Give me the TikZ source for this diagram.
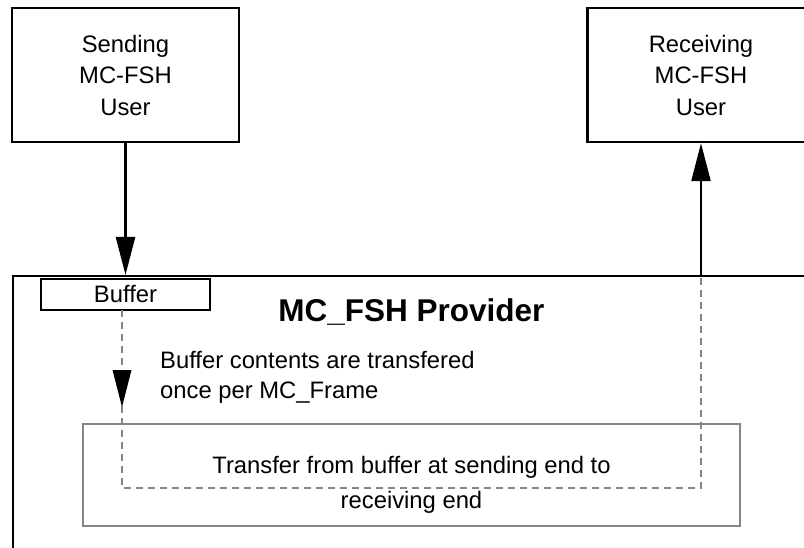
\documentclass[tikz,border=0pt]{standalone}
\usepackage{fontspec}
\setmainfont{Liberation Sans}
\usetikzlibrary{arrows.meta}
\definecolor{lgray}{HTML}{858585}
\tikzset{
  blk/.style={draw=black, line width=2.4pt, inner sep=0pt, rectangle},
  usrbox/.style={blk, minimum width=227pt, minimum height=134pt, align=center,
    font=\fontsize{23.8}{31.5}\selectfont},
  conn/.style={line width=2.4pt, -{Triangle[length=38pt,width=19pt]}},
  dline/.style={draw=lgray, line width=2.3pt, dash pattern=on 7pt off 5pt},
  txt/.style={font=\fontsize{23.8}{30}\selectfont, inner sep=0pt}
}
\begin{document}
\begin{tikzpicture}[x=1pt,y=-1pt]
\useasboundingbox (0,0) rectangle (804,548);
\clip (0,0) rectangle (804,548);
% provider box
\node[blk, minimum width=818pt, minimum height=290pt, anchor=north west] (prov) at (12,275) {};
% users
\node[usrbox] (send) at (125.5,75) {Sending\\MC-FSH\\User};
\node[usrbox] (recv) at (701,75) {Receiving\\MC-FSH\\User};
% buffer
\node[blk, minimum width=169pt, minimum height=31pt, fill=white, txt] (buf) at (125.5,294.5) {Buffer};
% title and notes
\node[font=\bfseries\fontsize{31.5}{31.5}\selectfont, inner sep=0pt] (title) at (411.5,312) {MC\_FSH Provider};
\node[txt, anchor=west, align=left] (note) at (160,377) {Buffer contents are transfered\\once per MC\_Frame};
% transfer box
\node[draw=lgray, line width=2.3pt, minimum width=657pt, minimum height=102pt, inner sep=0pt] (xfer) at (411.5,475) {};
\node[txt, align=center, font=\fontsize{23.8}{35}\selectfont] (xfertxt) at (411.5,484.5) {Transfer from buffer at sending end to\\receiving end};
% coordinates
\coordinate (sendin) at (send.south |- prov.north);
\coordinate (recvout) at (recv.south |- prov.north);
\coordinate (dtop) at (122,310);
\coordinate (dtip) at (122,407);
\coordinate (dbl) at (122,488);
\coordinate (dbr) at (recvout |- dbl);
% connectors
\draw[conn] (send.south) -- (sendin);
\draw[conn] (recvout) -- (recv.south);
\draw[dline] (dtop) -- (dbl) -- (dbr) -- (recvout);
\fill[black] (dtip) -- ++(-9.5,-37) -- ++(19,0) -- cycle;
\end{tikzpicture}
\end{document}
